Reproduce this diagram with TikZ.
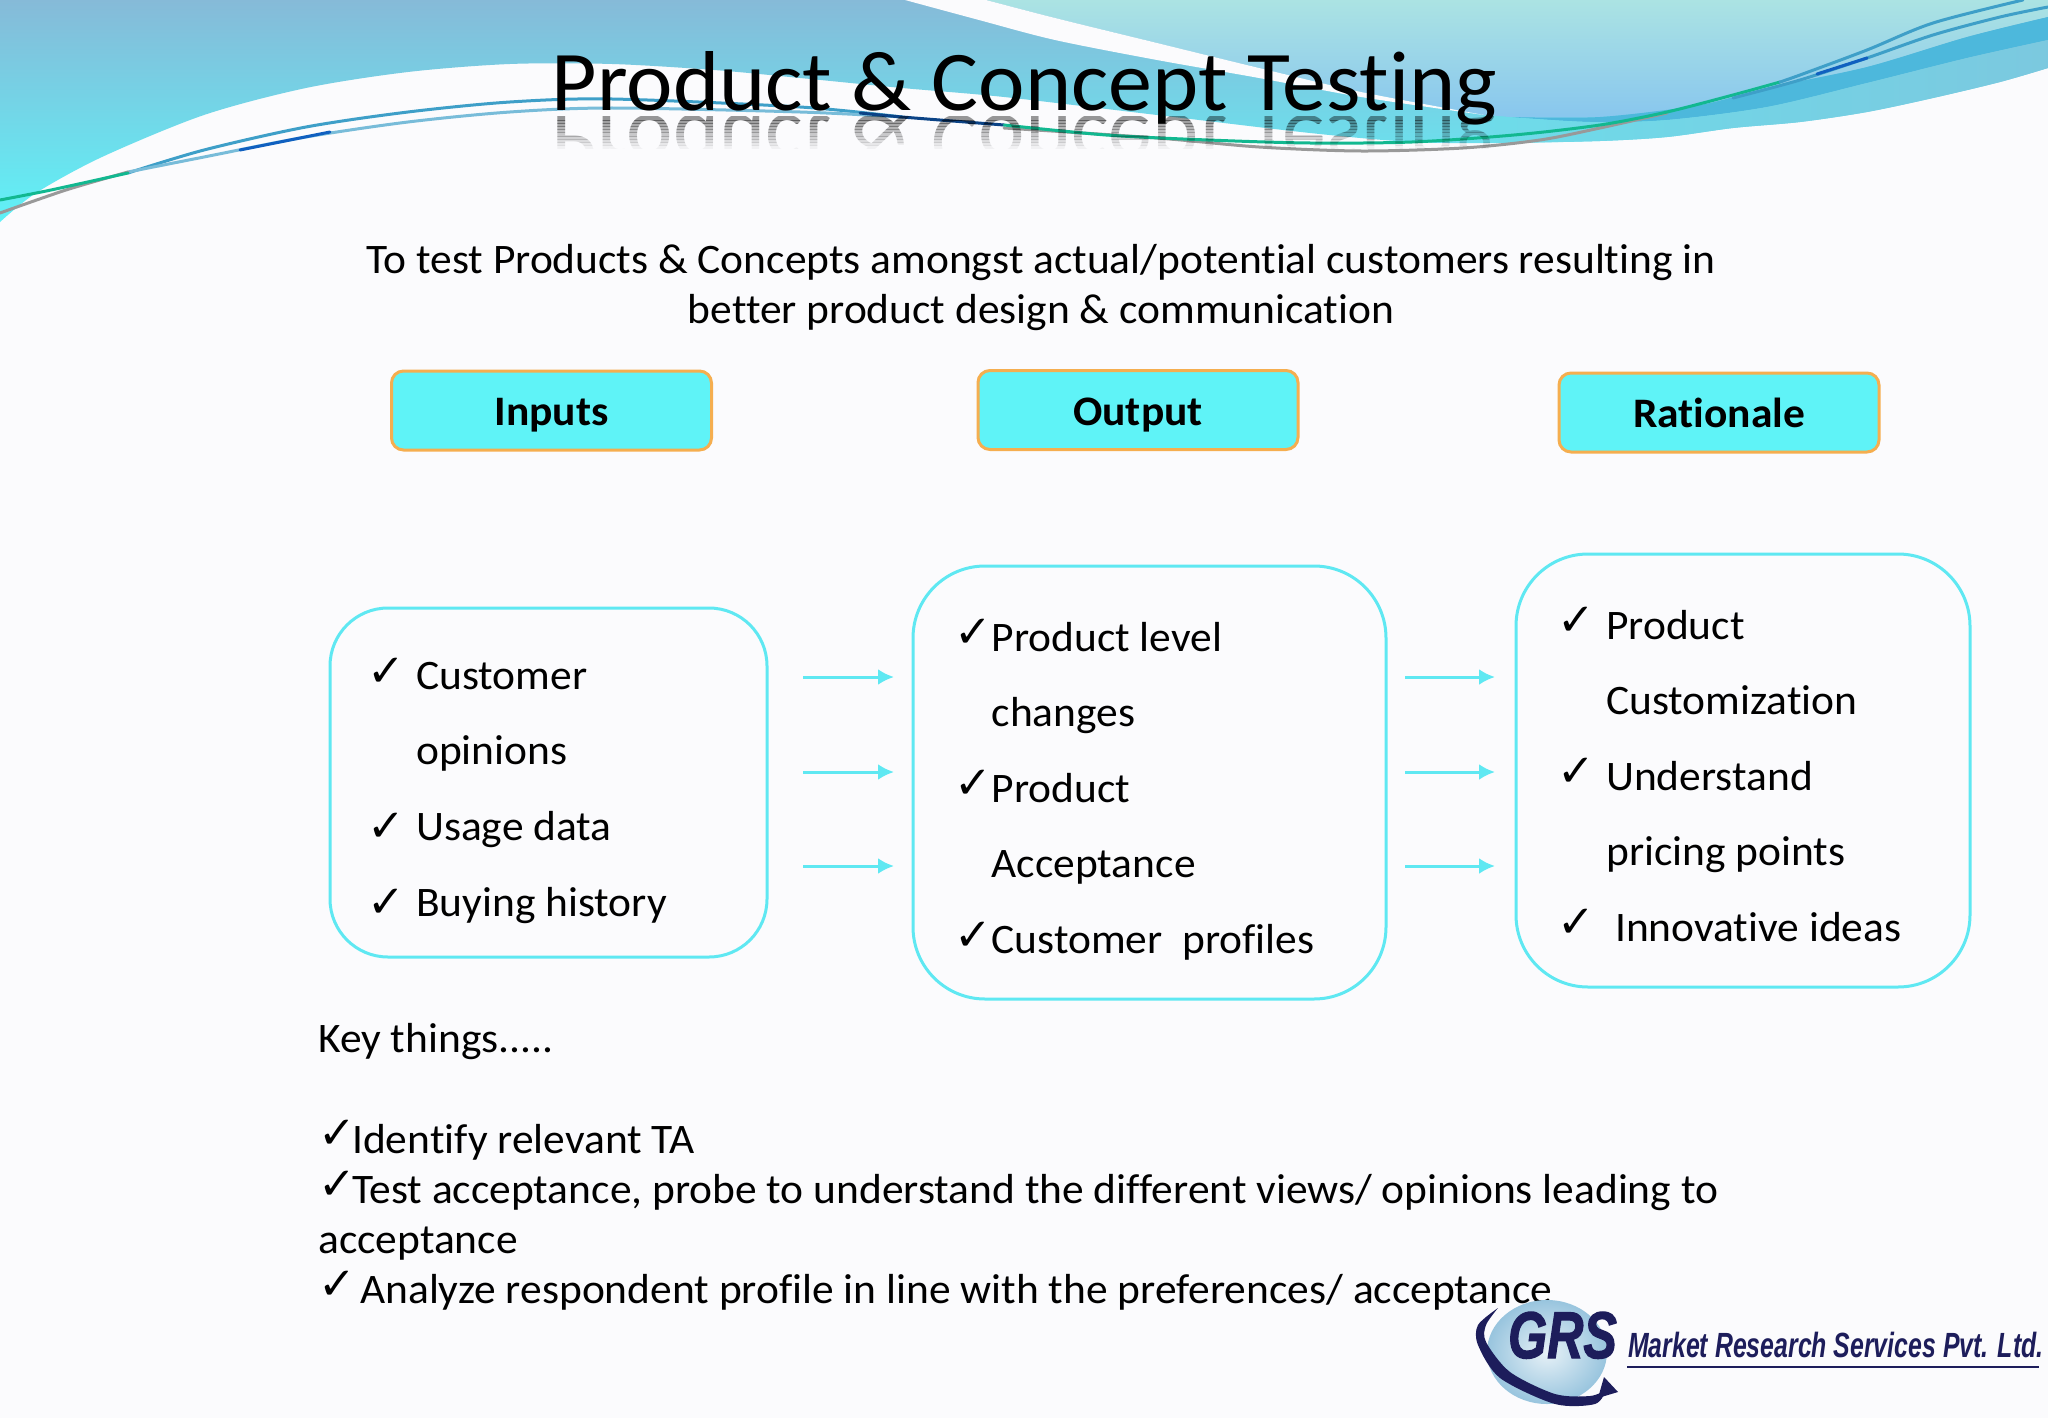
\documentclass[tikz,border=0pt]{standalone}
\usepackage{fontspec}
\setmainfont{Carlito}[Ligatures=NoCommon, FakeStretch=1.035]
\newfontfamily\tickfont{DejaVu Sans}
\newfontfamily\logofont{Liberation Sans}
\newfontfamily\logofat{Liberation Sans}[BoldItalicFeatures={FakeBold=2}]
\usetikzlibrary{arrows.meta}
\definecolor{pagebg}{HTML}{FBFBFD}
\definecolor{skytop}{HTML}{86BAD8}
\definecolor{skymid}{HTML}{74D2E4}
\definecolor{skylow}{HTML}{5FF2F7}
\definecolor{paletop}{HTML}{ABE3E3}
\definecolor{palelow}{HTML}{88C6EE}
\definecolor{bandblue}{HTML}{4DB8DC}
\definecolor{tealline}{HTML}{3E9FC8}
\definecolor{deepline}{HTML}{1060C0}
\definecolor{greenline}{HTML}{12B890}
\definecolor{btnfill}{HTML}{5FF3F7}
\definecolor{btnedge}{HTML}{F5AE4F}
\definecolor{panelcyan}{HTML}{5FE8F2}
\definecolor{navy}{HTML}{1D1D5B}
\tikzset{
  titletext/.style={font=\fontsize{85}{90}\selectfont, anchor=base, inner sep=0},
  bodytext/.style={font=\fontsize{42}{48}\selectfont, anchor=base west, inner sep=0},
  ticktext/.style={font=\tickfont\fontsize{45}{50}\selectfont, anchor=base west, inner sep=0},
  btn/.style={draw=btnedge, fill=btnfill, line width=3pt, rounded corners=12pt, minimum width=320, minimum height=79, text height=30, text depth=0, font=\fontsize{42}{48}\selectfont\bfseries},
  panel/.style={draw=panelcyan, line width=3pt, rounded corners=#1},
  flowarrow/.style={draw=panelcyan, line width=3pt, -{Latex[length=16pt,width=16pt]}},
  swline/.style={line width=3pt, line cap=round}
}
\begin{document}
\begin{tikzpicture}[x=1pt, y=-1pt]
\useasboundingbox (0,0) rectangle (2048,1418);
\fill [pagebg](0,0) rectangle (2048,1418);

\shade [top color=skytop, middle color=skymid, bottom color=skylow](0,0)--(2048,0)--(2048,68)
  --plot[smooth] coordinates {(2048,68) (2000,82) (1933,98) (1867,112) (1800,122) (1733,128) (1667,137) (1600,141) (1500,143) (1412,142) (1310,133) (1157,115) (1004,97) (902,88) (800,78) (714,70) (612,64) (510,64) (408,72) (306,88) (204,115) (102,157) (36,193) (0,222)}--cycle;

\shade [top color=paletop, bottom color=palelow](986,0)
  --plot[smooth] coordinates {(986,0) (1055,18) (1157,43) (1259,68) (1361,92) (1484,115)}
  --(1509,117)--plot[smooth] coordinates {(1509,117) (1600,117) (1700,105) (1767,88) (1867,67) (1967,37) (2048,17)}--(2048,0)--cycle;

\fill [bandblue](1509,117)--plot[smooth] coordinates {(1509,117) (1600,117) (1700,105) (1767,88) (1867,67) (1967,37) (2048,17)}
  --(2048,40)--plot[smooth] coordinates {(2048,40) (1967,58) (1867,83) (1767,107) (1667,120) (1590,122) (1509,117)}--cycle;

\shade [left color=skymid!70!skylow, right color=skytop!40!skymid](1484,115)--(1509,117)--plot[smooth] coordinates {(1509,117) (1590,122) (1667,120) (1767,107) (1867,83) (1967,58) (2048,40)}
  --(2048,68)--plot[smooth] coordinates {(2048,68) (2000,82) (1933,98) (1867,112) (1800,122) (1733,128) (1667,137) (1600,141) (1500,143)}--cycle;

\fill [pagebg](905,0)--plot[smooth] coordinates {(905,0) (979,20) (1055,40) (1157,60) (1259,78) (1361,97) (1484,115)}
  --plot[smooth] coordinates {(1484,115) (1361,92) (1259,68) (1157,43) (1055,18) (986,0)}--cycle;

\draw [swline, draw=tealline]plot[smooth] coordinates {(128,173) (204,150) (306,127) (408,112) (510,102) (612,99) (800,107) (902,117)};
\draw [swline, draw=tealline!70!white]plot[smooth] coordinates {(128,172) (204,157) (306,137) (408,122) (510,112) (612,108) (800,112) (902,117)};
\draw [swline, draw=deepline]plot[smooth] coordinates {(240,150) (285,141) (330,132)};
\draw [swline, draw=gray!80]plot[smooth] coordinates {(0,213) (66,190) (128,172)};
\draw [swline, draw=gray!80]plot[smooth] coordinates {(1004,128) (1157,138) (1259,147) (1361,151) (1463,148) (1540,140) (1600,128) (1667,113)};
\draw [swline, draw=greenline]plot[smooth] coordinates {(0,200) (51,190) (128,173)};
\draw [swline, draw=deepline!70!black]plot[smooth] coordinates {(860,113) (902,117) (1004,125)};
\draw [swline, draw=greenline]plot[smooth] coordinates {(1004,125) (1106,135) (1208,140) (1310,143) (1412,142) (1514,135) (1600,125) (1667,112) (1733,95) (1780,82)};
\draw [swline, draw=tealline]plot[smooth] coordinates {(1780,82) (1800,75) (1867,50) (1933,23) (2023,0)};
\draw [swline, draw=tealline]plot[smooth] coordinates {(1733,98) (1800,80) (1867,58) (1933,35) (2000,17) (2048,7)};
\draw [swline, draw=deepline]plot[smooth] coordinates {(1817,74) (1842,66) (1867,58)};

\foreach \i in {0,...,9}
{
  \begin{scope}
  \clip (500,{117+\i*3.2}) rectangle (1550,{117+(\i+1)*3.2});
  \node [titletext, text opacity={.4-\i*.04}] at (1024.5,116) {\scalebox{1}[-1]{Product \& Concept Testing}};
  \end{scope}
}
\node [titletext] (title) at (1024.5,111) {Product \& Concept Testing};

\node [bodytext, anchor=base] (aimone) at (1041,273) {To test Products \& Concepts amongst actual/potential customers resulting in};
\node [bodytext, anchor=base] (aimtwo) at (1041,323) {better product design \& communication};

\node [btn] (inputs) at (551.5,410.5) {Inputs};
\node [btn] (output) at (1138,410) {Output};
\node [btn] (rationale) at (1719,412.5) {Rationale};

\node [panel=58pt, minimum width=437, minimum height=349] (inbox) at (548.5,782.5) {};
\node [panel=72pt, minimum width=473, minimum height=433] (outbox) at (1149.5,782.5) {};
\node [panel=72pt, minimum width=454, minimum height=433] (whybox) at (1743,770.5) {};

\foreach \y/\n in {677/a,772/b,866/c}
{
  \coordinate (ins\n) at (803,\y);
  \coordinate (ine\n) at (894,\y);
  \coordinate (outs\n) at (1405,\y);
  \coordinate (oute\n) at (1495,\y);
  \draw [flowarrow](ins\n)--(ine\n);
  \draw [flowarrow](outs\n)--(oute\n);
}

\foreach \n/\x/\y/\t in {ia/416/689.5/Customer, ib/416/764.5/opinions, ic/416/840.5/Usage data, id/416/916.5/Buying history,
  oa/991.5/651.5/Product level, ob/991.5/726.5/changes, oc/991.5/802.5/Product, od/991.5/877.5/Acceptance, oe/991.5/953.5/Customer\ \ profiles,
  ra/1606/639/Product, rb/1606/714.5/Customization, rc/1606/790.5/Understand, rd/1606/865.5/pricing points, re/1615/941.5/Innovative ideas,
  ka/318/1052/{Key things.....}, kb/352/1153/Identify relevant TA, kc/352/1203/{Test acceptance, probe to understand the different views/ opinions leading to},
  kd/318/1253/acceptance, ke/360/1303.5/{Analyze respondent profile in line with the preferences/ acceptance}}
{
  \node [bodytext] (\n) at (\x,\y) {\t};
}

\foreach \n/\x/\y in {ta/367/686, tb/367/841, tc/367/917, td/954/647, te/954/798, tf/954/950, tg/1557/635, th/1557/786, ti/1557/937, tj/318/1148, tk/318/1199, tl/318/1299}
{
  \node [ticktext] (\n) at (\x,\y) {✓};
}

\shade [inner color=white!80!skytop, outer color=skytop!85!white](1547,1352) ellipse [x radius=60, y radius=52];
\fill [navy](1498,1308)--plot[smooth] coordinates {(1498,1308) (1478,1325) (1478,1345) (1500,1378) (1555,1404) (1595,1404) (1606,1390)}
  --plot[smooth] coordinates {(1606,1390) (1590,1396) (1555,1394) (1510,1372) (1486,1342) (1486,1325) (1498,1308)}--cycle;
\fill [navy](1618,1392)--(1604,1377)--(1598,1398)--cycle;
\node [anchor=base west, inner sep=0, xscale=.76, transform shape, text=navy, font=\logofat\fontsize{66}{70}\selectfont\bfseries\itshape] (grs) at (1508,1358) {GRS};
\node [anchor=base west, inner sep=0, xscale=.71, transform shape, text=navy, font=\logofont\fontsize{35}{40}\selectfont\bfseries\itshape] (grsname) at (1628,1357) {Market Research Services Pvt. Ltd.};
\coordinate (rulea) at (1627,1367);
\coordinate (ruleb) at (2039,1367);
\draw [navy, line width=2pt](rulea)--(ruleb);
\end{tikzpicture}
\end{document}
